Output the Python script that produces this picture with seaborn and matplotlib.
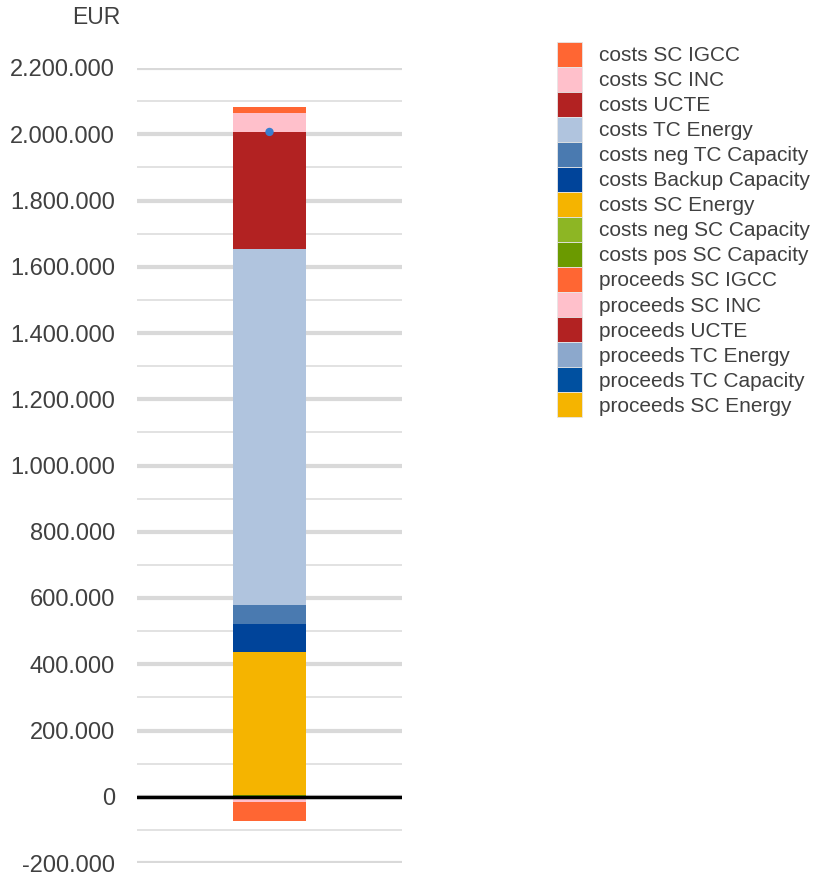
import matplotlib
matplotlib.use("Agg")
import matplotlib.pyplot as plt
import matplotlib.patches as mpatches
from matplotlib.ticker import FuncFormatter, MultipleLocator
import seaborn as sns
import pandas as pd
import numpy as np

sns.set_theme(style="white")
plt.rcParams['font.family'] = ['Liberation Sans', 'DejaVu Sans']

# Series (stack order bottom -> top, as in legend reversed)
series = [
    "proceeds SC Energy", "proceeds TC Capacity", "proceeds TC Energy",
    "proceeds UCTE", "proceeds SC INC", "proceeds SC IGCC",
    "costs pos SC Capacity", "costs neg SC Capacity", "costs SC Energy",
    "costs Backup Capacity", "costs neg TC Capacity", "costs TC Energy",
    "costs UCTE", "costs SC INC", "costs SC IGCC",
]
values = [
    0, 0, 0,
    0, -17000, -57000,
    4000, 0, 432000,
    87000, 56000, 1074000,
    353000, 57000, 18000,
]
colors = [
    "#F5B400", "#0050A0", "#8CA8CC",
    "#B22222", "#FFC0CB", "#FF6633",
    "#6B9A00", "#8DB624", "#F5B400",
    "#00449A", "#4A7AB0", "#B0C4DE",
    "#B22222", "#FFC0CB", "#FF6633",
]
net_total = [2007000]
category = ["Total"]

fig = plt.figure(figsize=(8.16, 8.75), dpi=100)
ax = fig.add_axes([137/816, 1-863/875, (402-137)/816, (863-68)/875])

pos_bottom = 0.0
neg_bottom = 0.0
for name, val, col in zip(series, values, colors):
    if val >= 0:
        b = pos_bottom
        pos_bottom += val
    else:
        b = neg_bottom
        neg_bottom += val
    df = pd.DataFrame({"cat": category, "v": [val]})
    sns.barplot(data=df, x="cat", y="v", color=col, width=0.275,
                bottom=b, ax=ax, saturation=1, linewidth=0, zorder=3)

sns.scatterplot(x=category, y=net_total, ax=ax, color="#3A7ECF", s=36,
                edgecolor="none", zorder=5)

ax.set_xlim(-0.5, 0.5)
ax.set_ylim(-200000, 2200000)
ax.yaxis.set_major_locator(MultipleLocator(200000))
ax.yaxis.set_minor_locator(MultipleLocator(100000))
ax.yaxis.set_major_formatter(FuncFormatter(lambda v, p: f"{int(round(v)):,}".replace(",", ".")))
ax.grid(axis="y", which="major", color="#D9D9D9", linewidth=3, zorder=0)
ax.grid(axis="y", which="minor", color="#DDDDDD", linewidth=1.2, zorder=0)
ax.set_axisbelow(True)
ax.axhline(0, color="black", linewidth=2.5, zorder=4)
for s in ax.spines.values():
    s.set_visible(False)
ax.set_xticks([])
ax.set_xlabel("")
ax.set_ylabel("")
ax.tick_params(axis="y", which="both", length=0, pad=16, labelsize=17, labelcolor="#404040")

fig.text(120/816, 1-18/875, "EUR", ha="right", va="center", fontsize=16.5, color="#404040")

handles = [mpatches.Patch(facecolor=c, edgecolor="#E6E6E6", linewidth=0.6, label=n)
           for n, c in zip(series, colors)][::-1]
fig.legend(handles=handles, loc="upper left", bbox_to_anchor=(557/816, 1-42/875),
           frameon=False, fontsize=15, labelcolor="#404040",
           handlelength=1.2, handleheight=1.47, handletextpad=0.8,
           labelspacing=0.0, borderpad=0, borderaxespad=0)

fig.savefig("out.png", dpi=100)
